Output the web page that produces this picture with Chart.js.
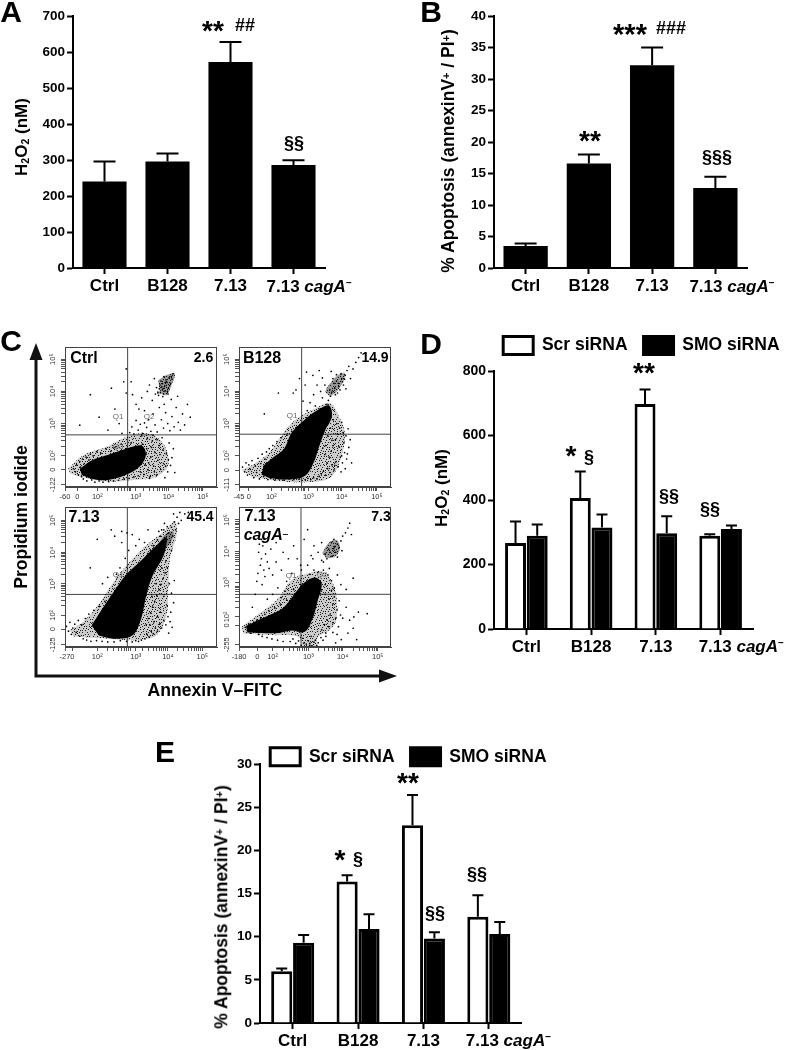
<!DOCTYPE html>
<html>
<head>
<meta charset="utf-8">
<script src="https://cdn.jsdelivr.net/npm/chart.js@4"></script>
<style>
html, body { margin: 0; padding: 0; background: #fff; }
body { position: relative; width: 787px; height: 1050px; overflow: hidden; font-family: "Liberation Sans", Arial, sans-serif; color: #000; }
canvas { position: absolute; }
.note { position: absolute; white-space: nowrap; line-height: 1; transform: translate(-50%, -50%); }
.rot { transform: translate(-50%, -50%) rotate(-90deg); }
.note sub { font-size: 62%; vertical-align: -0.25em; line-height: 0; }
.note sup { font-size: 62%; vertical-align: 0.35em; line-height: 0; }
svg { position: absolute; left: 0; top: 0; }
</style>
</head>
<body>
<svg width="787" height="1050">
	<path d="M36 358V676H381" fill="none" stroke="#111" stroke-width="3"/>
	<path d="M36 343L29.5 360H42.5Z M397 676L379 669.5V682.5Z" fill="#111"/>
</svg>
<script>
const categories = ['Ctrl', 'B128', '7.13', '7.13 cagA\u2013'];

const h2o2Values = [240, 296, 572, 286];
const h2o2Tops = [296, 318, 628, 299];
const apoptosisValues = [3.5, 16.6, 32.2, 12.7];
const apoptosisTops = [3.9, 18, 35, 14.5];

const scrH2o2 = [267, 406, 698, 289];
const scrH2o2Tops = [333, 488, 743, 294];
const smoH2o2 = [289, 315, 297, 310];
const smoH2o2Tops = [324, 355, 350, 321];

const scrApoptosis = [6, 16.4, 22.9, 12.3];
const scrApoptosisTops = [6.3, 17.1, 26.4, 14.8];
const smoApoptosis = [9.3, 10.9, 9.8, 10.3];
const smoApoptosisTops = [10.2, 12.6, 10.5, 11.7];

// flow plots: display channels, 100 per decade, written as x,y,x,y
// Dots = single events, Dense = outline of the solid black mass, Haze = outline of the speckled fringe, Spot = upper population
const ctrlDots = [132,160,138,150,141,172,146,141,150,182,152,165,155,135,158,190,160,128,163,176,168,196,170,122,176,187,180,205,184,125,188,200,193,118,198,213,205,122,210,208,216,118,224,222,232,120,238,214,246,122,252,228,260,124,268,236,276,128,282,222,290,130,296,240,304,134,310,228,316,138,322,150,328,236,332,142,336,172,340,222,344,156,348,130,352,196,356,246,360,168,364,210,368,140,372,186,376,232,380,158,384,256,388,176,392,132,396,206,400,150,404,240,408,170,412,194,416,222,420,148,330,190,338,206,346,178,354,226,362,150,370,250,378,204,386,218,394,168,402,188,342,254,350,136,326,262,358,264,292,272,298,290,304,268,310,310,316,280,322,298,328,270,334,340,340,288,346,312,352,276,358,330,364,296,370,274,376,350,382,312,388,286,394,334,400,300,406,278,412,322,418,290,424,350,430,304,436,280,442,330,448,296,456,360,464,320,310,360,326,380,342,400,300,390,356,372,372,395,318,345,334,302,390,360,410,375,428,385,348,420,362,440,296,430,282,395,391,415,385,405,398,428,378,420,402,410,372,398,388,392,395,436,408,425,381,432,376,408,399,400,405,418,385,424,392,401,368,412,412,438,389,446,401,392,374,388,383,414,396,419,387,409,393,428,379,396,410,446,415,455,404,442,365,392,386,384,230,280,180,390,205,320,250,345,270,270,150,295,282,470,275,430,262,300,240,410];
const ctrlDense = [150,160,185,186,231,203,278,220,325,232,338,205,322,168,280,140,231,125,186,128,156,140];
const ctrlHaze = [117,161,160,202,226,228,283,259,340,270,387,239,402,171,368,135,302,125,226,120,151,135,122,145];
const ctrlSpot = [373,435,397,451,420,456,411,420,397,389,378,394];

const b128Dots = [118,165,124,150,128,178,132,140,136,172,140,158,145,185,150,132,154,168,158,148,162,192,166,128,170,176,174,205,178,136,182,190,186,212,190,126,194,222,198,130,204,232,210,124,216,244,222,128,228,256,236,124,244,264,250,128,258,276,264,126,272,288,280,128,288,300,296,126,300,318,304,130,312,126,320,132,330,128,336,136,342,144,348,152,354,140,360,160,366,148,372,172,378,156,384,182,390,166,396,196,402,178,408,210,414,190,420,226,358,178,364,196,370,214,376,232,382,250,388,268,394,286,400,304,406,240,412,262,418,284,352,204,346,224,372,248,380,170,392,228,400,200,404,272,386,300,376,312,368,286,360,262,354,232,362,300,350,320,342,330,398,150,410,160,416,206,424,250,428,178,390,425,380,410,400,440,372,398,410,450,385,432,395,405,405,420,378,425,368,385,415,465,420,478,388,395,398,455,362,372,375,440,408,438,392,415,382,390,402,430,358,360,350,345,366,405,345,380,412,408,425,440,432,470,440,490,448,505,455,520,385,452,370,462,352,420,340,400,302,340,310,365,320,390,330,420,290,370,296,420,280,440,270,405,262,395,220,395,180,330,300,460,318,450,336,465,345,442,325,355,338,345,360,330];
const b128Dense = [178,170,204,194,236,222,258,272,292,310,332,342,364,356,372,322,354,282,336,230,320,178,296,138,248,126,200,130,172,142];
const b128Haze = [116,156,153,176,196,213,229,264,267,311,324,347,367,363,390,327,409,270,398,192,371,135,324,119,239,119,144,135];
const b128Spot = [352,399,367,425,390,451,409,456,404,430,385,399,367,384];

const wtDots = [112,165,118,150,122,178,126,140,130,160,136,172,140,146,146,184,150,134,156,170,160,126,166,190,170,122,176,204,182,118,190,216,198,120,206,228,214,118,222,244,230,116,240,260,248,116,258,276,266,120,274,292,284,118,292,306,300,116,310,120,318,118,326,122,336,126,342,140,348,132,354,150,360,142,366,160,372,150,378,172,384,160,390,184,396,170,402,196,408,180,346,190,352,208,358,226,364,244,370,262,376,280,382,298,388,316,394,334,400,350,406,300,412,270,418,240,410,210,400,230,390,260,380,210,372,196,362,180,356,260,368,300,384,350,396,372,340,170,350,170,404,144,414,162,420,310,396,440,404,460,412,478,420,495,428,510,436,525,400,480,390,470,380,450,372,438,408,430,416,450,424,470,432,490,440,500,384,470,376,465,392,490,360,420,352,405,344,395,370,400,412,405,450,520,460,525,418,520,270,465,285,460,300,455,250,450,240,470,320,440,335,430,345,470,310,420,290,405,280,380,265,350,200,440,180,350,255,330,270,430,230,320,215,300];
const wtDense = [184,168,213,218,242,266,280,325,330,378,380,432,398,446,390,390,358,325,340,262,325,188,300,136,246,126,205,136];
const wtHaze = [122,154,160,180,203,233,237,291,284,359,341,422,389,464,422,496,427,454,408,380,403,275,398,201,370,138,313,122,217,127,132,133];
const wtSpot = [375,427,398,459,417,464,413,438,389,401];

const mutDots = [122,168,128,158,132,178,136,150,140,172,146,184,150,156,155,190,160,146,166,198,170,140,178,208,184,136,190,218,198,132,206,228,214,128,222,240,230,124,240,252,250,124,258,132,266,118,274,126,282,112,290,120,298,108,306,118,314,110,322,128,330,120,338,136,296,116,286,134,302,126,310,140,318,122,306,112,326,112,344,128,352,140,340,160,348,176,356,190,364,206,372,182,380,196,388,170,394,206,384,222,372,240,360,256,350,270,340,284,376,262,368,282,390,250,400,196,410,230,420,190,432,200,445,215,470,210,360,170,372,152,352,150,384,146,396,130,415,150,440,130,380,120,430,165,310,300,320,320,330,338,345,345,358,330,368,312,376,290,350,300,335,310,318,345,305,332,362,350,385,330,395,300,410,285,300,360,315,380,340,375,430,320,290,300,282,345,374,411,364,400,385,425,370,388,395,435,380,400,360,410,390,415,375,440,400,450,408,460,415,475,420,490,385,385,350,395,398,405,368,430,355,380,345,370,378,418,425,455,340,430,330,400,318,420,300,470,290,440,310,390,168,380,160,400,172,420,165,360,175,345,158,335,180,395,168,440,162,425,185,370,155,310,170,300,178,325,190,350,200,330,210,370,225,345,240,310,255,335,270,380,215,290,235,280,260,285,280,300,200,270,185,255,225,260,250,250,275,265,195,410,210,430,230,400,260,420,280,360,245,380,150,270,142,230];
const mutDense = [124,172,158,190,196,208,232,230,266,276,286,302,320,322,340,304,328,247,314,194,292,154,254,158,216,150,169,150,128,152];
const mutHaze = [112,170,169,216,216,257,254,314,302,335,345,340,378,288,383,196,364,160,331,139,321,110,288,110,273,139,188,144,116,149];
const mutSpot = [342,397,359,428,383,438,392,412,378,386,354,381];

const ctrlXTicks = [108, 143, 200, 309, 402, 500];
const ctrlXLabels = ['-60', '0', '10\u00b2', '10\u00b3', '10\u2074', '10\u2075'];
const ctrlYTicks = [110, 157, 200, 300, 400, 500];
const ctrlYLabels = ['-122', '0', '10\u00b2', '10\u00b3', '10\u2074', '10\u2075'];
const b128XTicks = [108, 136, 200, 305, 400, 500];
const b128XLabels = ['-45', '0', '10\u00b2', '10\u00b3', '10\u2074', '10\u2075'];
const b128YTicks = [110, 155, 200, 300, 400, 500];
const b128YLabels = ['-111', '0', '10\u00b2', '10\u00b3', '10\u2074', '10\u2075'];
const wtXTicks = [108, 129, 200, 310, 402, 500];
const wtXLabels = ['-27', '0', '10\u00b2', '10\u00b3', '10\u2074', '10\u2075'];
const wtYTicks = [107, 156, 200, 299, 398, 500];
const wtYLabels = ['-125', '0', '10\u00b2', '10\u00b3', '10\u2074', '10\u2075'];
const mutXTicks = [104, 156, 200, 302, 400, 500];
const mutXLabels = ['-180', '0', '10\u00b2', '10\u00b3', '10\u2074', '10\u2075'];
const mutYTicks = [114, 174, 200, 306, 402, 500];
const mutYLabels = ['-255', '0', '10\u00b2', '10\u00b3', '10\u2074', '10\u2075'];

// fill texture for the speckled parts of the flow plots, pixels in a 23x19 tile
const speckleTile = [3,1,9,0,15,2,20,1,6,3,12,4,18,4,1,5,22,5,8,6,14,7,4,7,19,7,11,8,0,9,16,9,6,9,21,10,2,11,9,11,13,11,18,12,5,12,11,13,22,13,15,14,0,14,7,14,20,15,3,15,12,16,17,16,9,17,1,17,6,17,22,17,14,18,19,18,4,18,10,2,17,1,7,1,2,3,21,3,15,5,10,6,5,5,17,7,13,2,1,8,8,9,12,10,16,12,3,13,10,15,18,14,14,16,21,12,7,11,11,18,0,12,6,15,19,3,4,10,15,10,22,8,9,4];

Chart.defaults.font.family = '"Liberation Sans", Arial, sans-serif';
Chart.defaults.color = '#000';
Chart.defaults.animation = false;

function addCanvas(left, top, width, height) {
	const canvas = document.createElement('canvas');
	canvas.width = width;
	canvas.height = height;
	canvas.style.left = left + 'px';
	canvas.style.top = top + 'px';
	canvas.style.width = width + 'px';
	canvas.style.height = height + 'px';
	document.body.appendChild(canvas);
	return canvas;
}

// upper whiskers, from the tops stored on each dataset
const whiskers = {
	id: 'whiskers',
	afterDatasetsDraw(chart, args, opts) {
		const { ctx, scales } = chart;
		ctx.save();
		ctx.strokeStyle = '#000';
		ctx.lineWidth = 2;
		chart.data.datasets.forEach((ds, d) => {
			chart.getDatasetMeta(d).data.forEach((bar, i) => {
				const y = scales.y.getPixelForValue(ds.tops[i]);
				ctx.beginPath();
				ctx.moveTo(bar.x, bar.y);
				ctx.lineTo(bar.x, y);
				ctx.moveTo(bar.x - opts.cap / 2, y);
				ctx.lineTo(bar.x + opts.cap / 2, y);
				ctx.stroke();
			});
		});
		ctx.restore();
	}
};

// last category has an italic gene name, ticks can't mix fonts
const mutantLabel = {
	id: 'mutantLabel',
	afterDraw(chart, args, opts) {
		const { ctx, scales } = chart;
		const last = categories.length - 1;
		const [strain, gene] = categories[last].split(' ');
		let x = scales.x.getPixelForTick(last) - opts.shift;
		const y = scales.x.top + opts.drop;
		ctx.save();
		ctx.textBaseline = 'alphabetic';
		ctx.textAlign = 'left';
		ctx.fillStyle = '#000';
		ctx.font = 'bold 17px "Liberation Sans"';
		ctx.fillText(strain + ' ', x, y);
		x += ctx.measureText(strain + ' ').width;
		ctx.font = 'italic bold 17px "Liberation Sans"';
		ctx.fillText(gene.slice(0, -1), x, y);
		x += ctx.measureText(gene.slice(0, -1)).width;
		ctx.font = 'bold 10px "Liberation Sans"';
		ctx.fillText(gene.slice(-1), x, y - 6);
		ctx.restore();
	}
};

const placeLegend = {
	id: 'placeLegend',
	afterLayout(chart, args, opts) {
		if (opts.left === undefined) {
			return;
		}
		const legend = chart.legend;
		const h = legend.bottom - legend.top;
		legend.left = opts.left;
		legend.right = chart.width + 60;
		legend.top = opts.top;
		legend.bottom = opts.top + h;
	}
};

function barChart(box, datasets, yMax, yStep, cfg) {
	new Chart(addCanvas(box.left, box.top, box.width, box.height), {
		type: 'bar',
		data: { labels: categories, datasets },
		plugins: [whiskers, mutantLabel, placeLegend],
		options: {
			responsive: false,
			devicePixelRatio: 1,
			layout: { padding: { top: cfg.padTop, right: cfg.padRight, left: 0, bottom: 0 } },
			barPercentage: cfg.barPct,
			categoryPercentage: cfg.catPct,
			plugins: {
				tooltip: { enabled: false },
				title: { display: false },
				legend: cfg.legend ? {
					display: true,
					align: 'start',
					labels: { boxWidth: 30, boxHeight: 18, padding: 16, color: '#000', font: { size: 17.5, weight: 'bold' } }
				} : { display: false },
				whiskers: { cap: cfg.cap },
				mutantLabel: { shift: cfg.labelShift, drop: cfg.labelDrop },
				placeLegend: cfg.legend || {}
			},
			scales: {
				x: {
					grid: { offset: false, drawOnChartArea: false, tickLength: 6, tickWidth: 2, tickColor: '#000' },
					border: { color: '#000', width: 2 },
					ticks: {
						padding: 2,
						autoSkip: false,
						maxRotation: 0,
						color: '#000',
						font: { size: 17, weight: 'bold' },
						callback: (v, i) => (i === categories.length - 1 ? '' : categories[i])
					},
					afterFit(s) { s.height = cfg.xHeight; }
				},
				y: {
					min: 0,
					max: yMax,
					grid: { drawOnChartArea: false, tickLength: 6, tickWidth: 2, tickColor: '#000' },
					border: { color: '#000', width: 2 },
					ticks: { stepSize: yStep, padding: 2, color: '#000', font: { size: cfg.tickSize, weight: 'bold' } },
					afterFit(s) { s.width = cfg.yWidth; }
				}
			}
		}
	});
}

const blackBar = (label, data, tops) => ({ label, data, tops, backgroundColor: '#000', borderColor: '#000', borderWidth: 3 });
const whiteBar = (label, data, tops) => ({ label, data, tops, backgroundColor: '#fff', borderColor: '#000', borderWidth: 3 });

barChart({ left: 0, top: 0, width: 380, height: 300 }, [{ data: h2o2Values, tops: h2o2Tops, backgroundColor: '#000' }], 700, 100, {
	padTop: 16, padRight: 55, barPct: 0.7, catPct: 1, cap: 22, labelShift: 27, labelDrop: 24, xHeight: 32, yWidth: 73, tickSize: 13.5
});
barChart({ left: 400, top: 0, width: 387, height: 300 }, [{ data: apoptosisValues, tops: apoptosisTops, backgroundColor: '#000' }], 40, 5, {
	padTop: 16, padRight: 40, barPct: 0.7, catPct: 1, cap: 22, labelShift: 26, labelDrop: 24, xHeight: 32, yWidth: 94, tickSize: 13.5
});
barChart({ left: 420, top: 317, width: 367, height: 342 }, [
	whiteBar('Scr siRNA', scrH2o2, scrH2o2Tops),
	blackBar('SMO siRNA', smoH2o2, smoH2o2Tops)
], 800, 200, {
	padTop: 10, padRight: 34, barPct: 0.965, catPct: 0.67, cap: 11, labelShift: 22, labelDrop: 23, xHeight: 30, yWidth: 74, tickSize: 14,
	legend: { left: 67.2, top: 3.5 }
});
barChart({ left: 170, top: 710, width: 420, height: 340 }, [
	whiteBar('Scr siRNA', scrApoptosis, scrApoptosisTops),
	blackBar('SMO siRNA', smoApoptosis, smoApoptosisTops)
], 30, 5, {
	padTop: 10, padRight: 68.5, barPct: 0.965, catPct: 0.67, cap: 11, labelShift: 23, labelDrop: 23, xHeight: 27, yWidth: 90, tickSize: 13.5,
	legend: { left: 84.2, top: 21.7 }
});

const toPoints = (flat) => {
	const out = [];
	for (let i = 0; i < flat.length; i += 2) {
		out.push({ x: flat[i], y: flat[i + 1] });
	}
	return out;
};

function speckle(baseAlpha) {
	const tile = document.createElement('canvas');
	tile.width = 23;
	tile.height = 19;
	const t = tile.getContext('2d');
	t.fillStyle = `rgba(0,0,0,${baseAlpha})`;
	t.fillRect(0, 0, 23, 19);
	t.fillStyle = 'rgba(0,0,0,0.85)';
	for (let i = 0; i < speckleTile.length; i += 2) {
		t.fillRect(speckleTile[i], speckleTile[i + 1], 1, 1);
	}
	return t.createPattern(tile, 'repeat');
}

const frame = {
	id: 'frame',
	afterDraw(chart) {
		const { ctx, chartArea: a } = chart;
		ctx.save();
		ctx.strokeStyle = '#444';
		ctx.lineWidth = 1;
		ctx.strokeRect(a.left + 0.5, a.top + 0.5, a.width - 1, a.height - 1);
		ctx.restore();
	}
};

// decade minor marks for the flow axes
function minorMarks() {
	const out = [];
	for (let d = 2; d < 5; d++) {
		for (let k = 2; k < 10; k++) {
			out.push(100 * (d + Math.log10(k)));
		}
	}
	return out;
}

function flowAxis(range, majors, labels, size, vertical) {
	return {
		min: range[0],
		max: range[1],
		grid: { drawOnChartArea: false, tickLength: 4, tickWidth: 1, tickColor: '#555' },
		border: { color: '#444', width: 1 },
		afterBuildTicks(s) {
			s.ticks = majors.concat(minorMarks()).sort((a, b) => a - b).map((value) => ({ value }));
		},
		ticks: {
			autoSkip: false,
			padding: 1,
			color: '#333',
			font: { size: 7.5 },
			minRotation: vertical ? 90 : 0,
			maxRotation: vertical ? 90 : 0,
			crossAlign: vertical ? 'center' : 'near',
			callback: (v) => {
				const i = majors.indexOf(v);
				return i < 0 ? '' : labels[i];
			}
		},
		afterFit(s) {
			if (vertical) {
				s.width = 20;
			} else {
				s.height = size;
			}
		}
	};
}

const outline = (flat, fillStyle) => ({
	data: toPoints(flat),
	showLine: true,
	fill: 'shape',
	tension: 0.35,
	pointRadius: 0,
	borderWidth: 0,
	borderColor: 'rgba(0,0,0,0)',
	backgroundColor: fillStyle
});

function flowPlot(left, top, xRange, yRange, xGate, yGate, xAxis, yAxis, dots, dense, haze, spot) {
	new Chart(addCanvas(left - 20, top - 7, 180, 169), {
		type: 'scatter',
		plugins: [frame],
		data: {
			datasets: [
				{ data: toPoints(dots), pointRadius: 0.85, backgroundColor: '#000', borderWidth: 0 },
				outline(dense, '#000'),
				outline(spot, speckle(0.4)),
				outline(haze, speckle(0.2)),
				{ data: [{ x: xGate, y: yRange[0] }, { x: xGate, y: yRange[1] }], showLine: true, pointRadius: 0, borderColor: '#444', borderWidth: 1 },
				{ data: [{ x: xRange[0], y: yGate }, { x: xRange[1], y: yGate }], showLine: true, pointRadius: 0, borderColor: '#444', borderWidth: 1 }
			]
		},
		options: {
			responsive: false,
			devicePixelRatio: 1,
			layout: { padding: { top: 7, right: 8, left: 0, bottom: 0 } },
			plugins: { legend: { display: false }, tooltip: { enabled: false } },
			scales: {
				x: flowAxis(xRange, xAxis[0], xAxis[1], 22, false),
				y: flowAxis(yRange, yAxis[0], yAxis[1], 20, true)
			}
		}
	});
}

flowPlot(65, 347, [108, 540], [103, 538], 286, 265, [ctrlXTicks, ctrlXLabels], [ctrlYTicks, ctrlYLabels], ctrlDots, ctrlDense, ctrlHaze, ctrlSpot);
flowPlot(239, 347, [108, 540], [103, 538], 286, 267, [b128XTicks, b128XLabels], [b128YTicks, b128YLabels], b128Dots, b128Dense, b128Haze, b128Spot);
flowPlot(65, 507, [108, 542], [100, 542], 286, 266, [wtXTicks, wtXLabels], [wtYTicks, wtYLabels], wtDots, wtDense, wtHaze, wtSpot);
flowPlot(239, 507, [104, 538], [107, 540], 281, 270, [mutXTicks, mutXLabels], [mutYTicks, mutYLabels], mutDots, mutDense, mutHaze, mutSpot);

const apoptosisTitle = '% Apoptosis (annexinV<sup>+</sup> / PI<sup>+</sup>)';
const h2o2Title = 'H<sub>2</sub>O<sub>2</sub> (nM)';

// html, centre x, centre y, size, weight, rotated, colour
const notes = [
	['A', 11, 12, 30, 'bold'], ['B', 431, 12, 30, 'bold'], ['C', 11, 341, 30, 'bold'], ['D', 431, 344, 30, 'bold'], ['E', 165, 752, 30, 'bold'],
	[h2o2Title, 21, 137, 17, 'bold', true],
	[apoptosisTitle, 449, 151, 17.5, 'bold', true],
	[h2o2Title, 441, 488, 17, 'bold', true],
	[apoptosisTitle, 222, 907, 17.5, 'bold', true],
	['Propidium iodide', 22, 517, 17.6, 'bold', true],
	['Annexin V\u2013FITC', 215, 691, 17.6, 'bold'],
	['**', 213, 31, 28, 'bold'], ['##', 245, 25, 18, 'bold'], ['\u00a7\u00a7', 294, 143, 18, 'bold'],
	['***', 630, 34, 29, 'bold'], ['###', 671, 28, 18, 'bold'], ['**', 590, 141, 28, 'bold'], ['\u00a7\u00a7\u00a7', 717, 157, 18, 'bold'],
	['**', 644, 373, 28, 'bold'], ['*', 571, 456, 28, 'bold'], ['\u00a7', 589, 457, 18, 'bold'], ['\u00a7\u00a7', 669, 496, 18, 'bold'], ['\u00a7\u00a7', 710, 509, 18, 'bold'],
	['**', 408, 783, 28, 'bold'], ['*', 340, 860, 28, 'bold'], ['\u00a7', 358, 859, 18, 'bold'], ['\u00a7\u00a7', 435, 913, 18, 'bold'], ['\u00a7\u00a7', 477, 874, 18, 'bold'],
	['Ctrl', 84, 358, 16, 'bold'], ['2.6', 203.5, 357, 14, 'bold'],
	['B128', 262, 358, 16, 'bold'], ['14.9', 375, 357, 14, 'bold'],
	['7.13', 84, 517, 16, 'bold'], ['45.4', 200, 516, 14, 'bold'],
	['7.13', 260, 516, 16, 'bold'], ['7.3', 381, 516, 14, 'bold'],
	['<i>cagA</i><sup>\u2013</sup>', 266, 535, 16, 'bold'],
	['Q1', 118, 417, 8, 'normal', false, '#666'], ['Q2', 149, 417, 8, 'normal', false, '#666'], ['Q3', 118, 447, 8, 'normal', false, '#666'],
	['Q1', 292, 416, 8, 'normal', false, '#666'], ['Q1', 118, 575, 8, 'normal', false, '#666'],
	['Q1', 291, 576, 8, 'normal', false, '#666'], ['Q2', 322, 575, 8, 'normal', false, '#888']
];

notes.forEach(([html, x, y, size, weight, rotated, colour]) => {
	const el = document.createElement('div');
	el.className = rotated ? 'note rot' : 'note';
	el.innerHTML = html;
	el.style.left = x + 'px';
	el.style.top = y + 'px';
	el.style.fontSize = size + 'px';
	el.style.fontWeight = weight;
	if (colour) {
		el.style.color = colour;
	}
	document.body.appendChild(el);
});
</script>
</body>
</html>
